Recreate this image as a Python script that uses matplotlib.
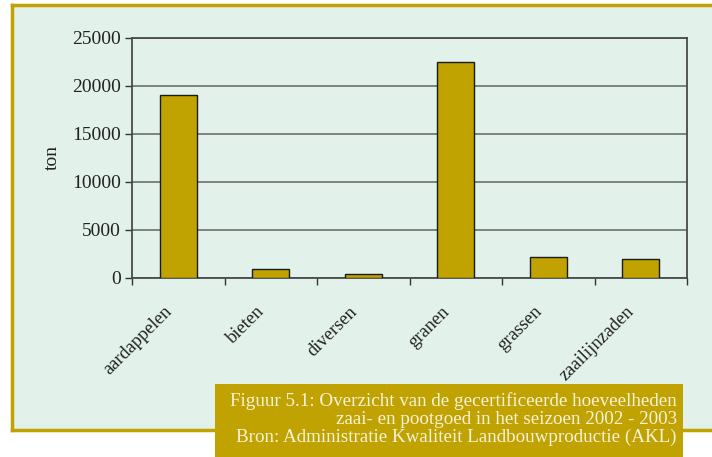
import matplotlib.pyplot as plt
import matplotlib.transforms as mtransforms
from matplotlib.patches import Rectangle
from matplotlib.lines import Line2D
import numpy as np

categories = ['aardappelen', 'bieten', 'diversen', 'granen', 'grassen', 'zaailijnzaden']
values = [19100, 950, 420, 22500, 2150, 1950]
yticks = [0, 5000, 10000, 15000, 20000, 25000]

bg = '#e2f1ea'
gold = '#c0a300'
W, H = 712, 457

plt.rcParams['font.family'] = ['Liberation Serif', 'DejaVu Serif']

fig = plt.figure(figsize=(W / 100, H / 100), dpi=100)

# panel behind the chart
fig.patches.append(Rectangle((12 / W, 1 - 430 / H), 1, 425 / H, transform=fig.transFigure,
                             facecolor=bg, edgecolor='none', zorder=0))
for xs, ys in [([12, W + 5], [5, 5]), ([12, 12], [5, 430]), ([12, W + 5], [430, 430])]:
    fig.lines.append(Line2D([x / W for x in xs], [1 - y / H for y in ys],
                            transform=fig.transFigure, color=gold, linewidth=2.5, zorder=1))

ax = fig.add_axes([132 / W, 1 - 278 / H, (687 - 132) / W, (278 - 38) / H])
ax.set_zorder(3)
ax.set_facecolor(bg)

x = np.arange(len(categories))
ax.bar(x, values, width=0.4, color=gold, edgecolor='#1a1a1a', linewidth=1, zorder=3)

ax.set_xlim(-0.5, len(categories) - 0.5)
ax.set_ylim(0, 25000)
ax.set_yticks(yticks)
ax.set_yticklabels([str(v) for v in yticks], fontsize=14, color='#222222')
ax.yaxis.grid(True, color='#6f6f6f', linewidth=1.2, zorder=1)
ax.set_axisbelow(True)

# boundary ticks between categories, labels placed by hand at centres
ax.set_xticks(np.arange(-0.5, len(categories)))
ax.set_xticklabels([])
ax.tick_params(axis='x', length=5, color='#333333', width=1)
ax.tick_params(axis='y', length=5, color='#333333', width=1, pad=3)

base = mtransforms.blended_transform_factory(ax.transData, ax.transAxes)
shift = mtransforms.ScaledTranslation(-0.15, -0.25, fig.dpi_scale_trans)
for xi, name in zip(x, categories):
    ax.text(xi, 0, name, transform=base + shift, rotation=45, ha='right', va='top',
            rotation_mode='anchor', fontsize=13.3, color='#222222', clip_on=False)

for s in ax.spines.values():
    s.set_color('#4a4a4a')
    s.set_linewidth(1.3)

ax.set_ylabel('ton', fontsize=14, color='#222222', labelpad=8)

# caption box
fig.patches.append(Rectangle((215 / W, 0), (683 - 215) / W, (457 - 384) / H,
                             transform=fig.transFigure, facecolor=gold,
                             edgecolor='none', zorder=5))
caption = ['Figuur 5.1: Overzicht van de gecertificeerde hoeveelheden',
           'zaai- en pootgoed in het seizoen 2002 - 2003',
           'Bron: Administratie Kwaliteit Landbouwproductie (AKL)']
for i, line in enumerate(caption):
    fig.text(677 / W, 1 - (401 + 18 * i) / H, line, ha='right', va='center',
             fontsize=13.7, color='#f7f2dc', zorder=6)

fig.savefig('out.png', dpi=100, facecolor='white')
